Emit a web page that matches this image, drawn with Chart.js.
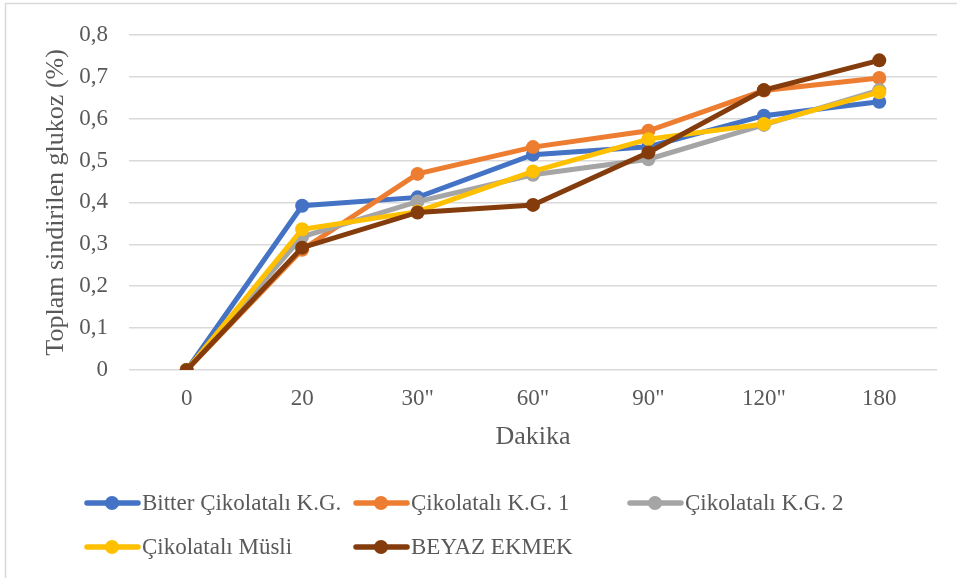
<!DOCTYPE html>
<html>
<head>
<meta charset="utf-8">
<script src="https://cdn.jsdelivr.net/npm/chart.js@4.4.1/dist/chart.umd.min.js"></script>
<style>
  body { margin: 0; background: #ffffff; }
  #wrap { width: 957px; height: 578px; }
</style>
</head>
<body>
<div id="wrap"><canvas id="glukozChart" width="957" height="578"></canvas></div>
<script>
// Data
const minutes = ['0', '20', '30"', '60"', '90"', '120"', '180'];
const yTickLabels = ['0', '0,1', '0,2', '0,3', '0,4', '0,5', '0,6', '0,7', '0,8'];

const seriesNames = ['Bitter Çikolatalı K.G.', 'Çikolatalı K.G. 1', 'Çikolatalı K.G. 2', 'Çikolatalı Müsli', 'BEYAZ EKMEK'];
const bitter = [0, 0.392, 0.412, 0.514, 0.533, 0.607, 0.640];
const cikolatali1 = [0, 0.287, 0.468, 0.532, 0.571, 0.667, 0.697];
const cikolatali2 = [0, 0.318, 0.402, 0.466, 0.503, 0.585, 0.668];
const musli = [0, 0.336, 0.378, 0.474, 0.551, 0.587, 0.663];
const beyazEkmek = [0, 0.292, 0.376, 0.394, 0.519, 0.668, 0.739];

const seriesValues = [bitter, cikolatali1, cikolatali2, musli, beyazEkmek];
const seriesColors = ['#4472C4', '#ED7D31', '#A5A5A5', '#FFC000', '#843C0C'];

const textColor = '#595959';
const fontFamily = "'Liberation Serif', 'Times New Roman', serif";

// Excel-like frame around the chart
const framePlugin = {
    id: 'frame',
    beforeDraw(chart) {
        const ctx = chart.ctx;
        ctx.save();
        ctx.fillStyle = '#ffffff';
        ctx.fillRect(0, 0, chart.width, chart.height);
        ctx.strokeStyle = '#d9d9d9';
        ctx.lineWidth = 1.5;
        ctx.beginPath();
        ctx.moveTo(5.5, chart.height);
        ctx.lineTo(5.5, 3.5);
        ctx.lineTo(chart.width, 3.5);
        ctx.stroke();
        ctx.restore();
    }
};

// Legend with line + marker swatches, laid out in two rows like the original
const lineLegendPlugin = {
    id: 'lineLegend',
    afterDraw(chart, args, opts) {
        const ctx = chart.ctx;
        ctx.save();
        ctx.font = `${opts.fontSize}px ${fontFamily}`;
        ctx.textBaseline = 'middle';
        ctx.textAlign = 'left';
        chart.data.datasets.forEach((ds, i) => {
            const slot = opts.slots[i];
            const x = slot[0], y = slot[1];
            ctx.strokeStyle = ds.borderColor;
            ctx.lineWidth = 5.5;
            ctx.lineCap = 'round';
            ctx.beginPath();
            ctx.moveTo(x + 2, y);
            ctx.lineTo(x + 53, y);
            ctx.stroke();
            ctx.fillStyle = ds.borderColor;
            ctx.beginPath();
            ctx.arc(x + 27, y, 7, 0, Math.PI * 2);
            ctx.fill();
            ctx.fillStyle = textColor;
            ctx.fillText(ds.label, x + 57, y + 1);
        });
        ctx.restore();
    }
};

const ctx = document.getElementById('glukozChart').getContext('2d');

const glukozChart = new Chart(ctx, {
    type: 'line',
    data: {
        labels: minutes,
        datasets: seriesValues.map((vals, i) => ({
            label: seriesNames[i],
            data: vals,
            borderColor: seriesColors[i],
            backgroundColor: seriesColors[i],
            pointBackgroundColor: seriesColors[i],
            pointBorderColor: seriesColors[i],
            pointBorderWidth: 0,
            pointRadius: 7,
            borderWidth: 5,
            tension: 0,
            fill: false,
            order: seriesValues.length - 1 - i
        }))
    },
    options: {
        responsive: false,
        animation: false,
        layout: {
            padding: { left: 0, top: 31, right: 20, bottom: 119 }
        },
        plugins: {
            legend: { display: false },
            tooltip: { enabled: false },
            lineLegend: {
                fontSize: 23,
                slots: [[85, 503], [354, 503], [628, 503], [85, 547], [354, 547]]
            }
        },
        scales: {
            x: {
                offset: true,
                grid: { display: false, drawTicks: false },
                border: { display: false },
                ticks: {
                    color: textColor,
                    padding: 15,
                    maxRotation: 0,
                    font: { family: fontFamily, size: 23 }
                },
                title: {
                    display: true,
                    text: 'Dakika',
                    color: textColor,
                    padding: { top: 0, bottom: 6 },
                    font: { family: fontFamily, size: 26 }
                },
                afterFit: (scale) => { scale.height = 89; }
            },
            y: {
                min: 0,
                max: 0.8,
                grid: { color: '#d9d9d9', lineWidth: 1.5, drawTicks: false },
                border: { display: false },
                ticks: {
                    stepSize: 0.1,
                    color: textColor,
                    padding: 21,
                    font: { family: fontFamily, size: 23 },
                    callback: (value, index) => yTickLabels[index]
                },
                title: {
                    display: true,
                    text: 'Toplam sindirilen glukoz (%)',
                    color: textColor,
                    padding: { top: 41, bottom: 0 },
                    font: { family: fontFamily, size: 26 }
                },
                afterFit: (scale) => { scale.width = 129; }
            }
        }
    },
    plugins: [framePlugin, lineLegendPlugin]
});
</script>
</body>
</html>
